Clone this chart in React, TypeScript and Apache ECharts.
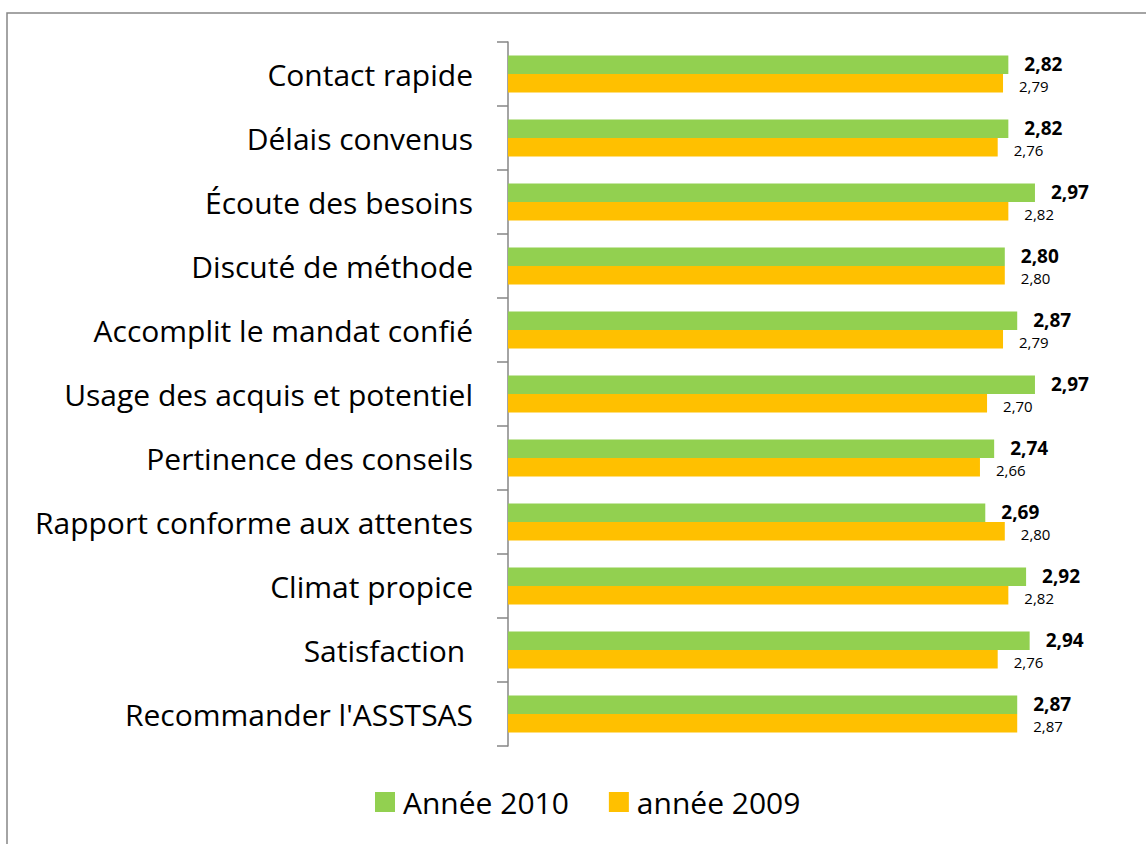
import React, { useEffect, useRef } from "react";
import * as echarts from "echarts";

const categories = [
  "Contact rapide",
  "Délais convenus",
  "Écoute des besoins",
  "Discuté de méthode",
  "Accomplit le mandat confié",
  "Usage des acquis et potentiel",
  "Pertinence des conseils",
  "Rapport conforme aux attentes",
  "Climat propice",
  "Satisfaction ",
  "Recommander l'ASSTSAS",
];
const values2010 = [2.82, 2.82, 2.97, 2.8, 2.87, 2.97, 2.74, 2.69, 2.92, 2.94, 2.87];
const values2009 = [2.79, 2.76, 2.82, 2.8, 2.79, 2.7, 2.66, 2.8, 2.82, 2.76, 2.87];
const seriesNames = ["Année 2010", "année 2009"];

const FONT = "'Open Sans', sans-serif";
const fmt = (p: any) => Number(p.value).toFixed(2).replace(".", ",");

export default function App() {
  const ref = useRef<HTMLDivElement>(null);
  useEffect(() => {
    const chart = echarts.init(ref.current!, null, { renderer: "svg" });
    chart.setOption({
      animation: false,
      backgroundColor: "#ffffff",
      textStyle: { fontFamily: FONT },
      graphic: [
        {
          type: "rect",
          shape: { x: 7, y: 13, width: 1200, height: 900 },
          style: { fill: "none", stroke: "#868686", lineWidth: 1.5 },
          silent: true,
        },
      ],
      grid: { left: 508, top: 42, width: 621, height: 704 },
      xAxis: {
        type: "value",
        min: 0,
        max: 3.5,
        show: false,
      },
      yAxis: {
        type: "category",
        data: categories,
        inverse: true,
        axisLine: { show: true, lineStyle: { color: "#868686", width: 1.5 } },
        axisTick: { show: true, length: 11, lineStyle: { color: "#868686", width: 1.5 } },
        axisLabel: {
          color: "#000000",
          fontSize: 30,
          fontFamily: FONT,
          margin: 35,
        },
        splitLine: { show: false },
      },
      legend: {
        data: seriesNames,
        left: 375,
        top: 787,
        padding: 0,
        itemWidth: 20,
        itemHeight: 20,
        itemGap: 40,
        icon: "rect",
        textStyle: { fontSize: 30, color: "#000000", fontFamily: FONT, padding: [0, 0, 0, 3] },
      },
      series: [
        {
          name: seriesNames[0],
          type: "bar",
          data: values2010,
          barGap: "0%",
          barCategoryGap: "42%",
          itemStyle: { color: "#92D050" },
          label: {
            show: true,
            position: "right",
            distance: 16,
            formatter: fmt,
            color: "#000000",
            fontWeight: "bold",
            fontSize: 19,
            lineHeight: 16,
            fontFamily: FONT,
            offset: [0, -1],
          },
        },
        {
          name: seriesNames[1],
          type: "bar",
          data: values2009,
          barGap: "0%",
          barCategoryGap: "42%",
          itemStyle: { color: "#FFC000" },
          label: {
            show: true,
            position: "right",
            distance: 16,
            formatter: fmt,
            color: "#000000",
            fontSize: 15,
            lineHeight: 13,
            fontFamily: FONT,
            offset: [0, 3],
          },
        },
      ],
    });
    return () => chart.dispose();
  }, []);
  return (
    <div
      ref={ref}
      style={{ position: "absolute", left: 0, top: 0, width: 1146, height: 844 }}
    />
  );
}
